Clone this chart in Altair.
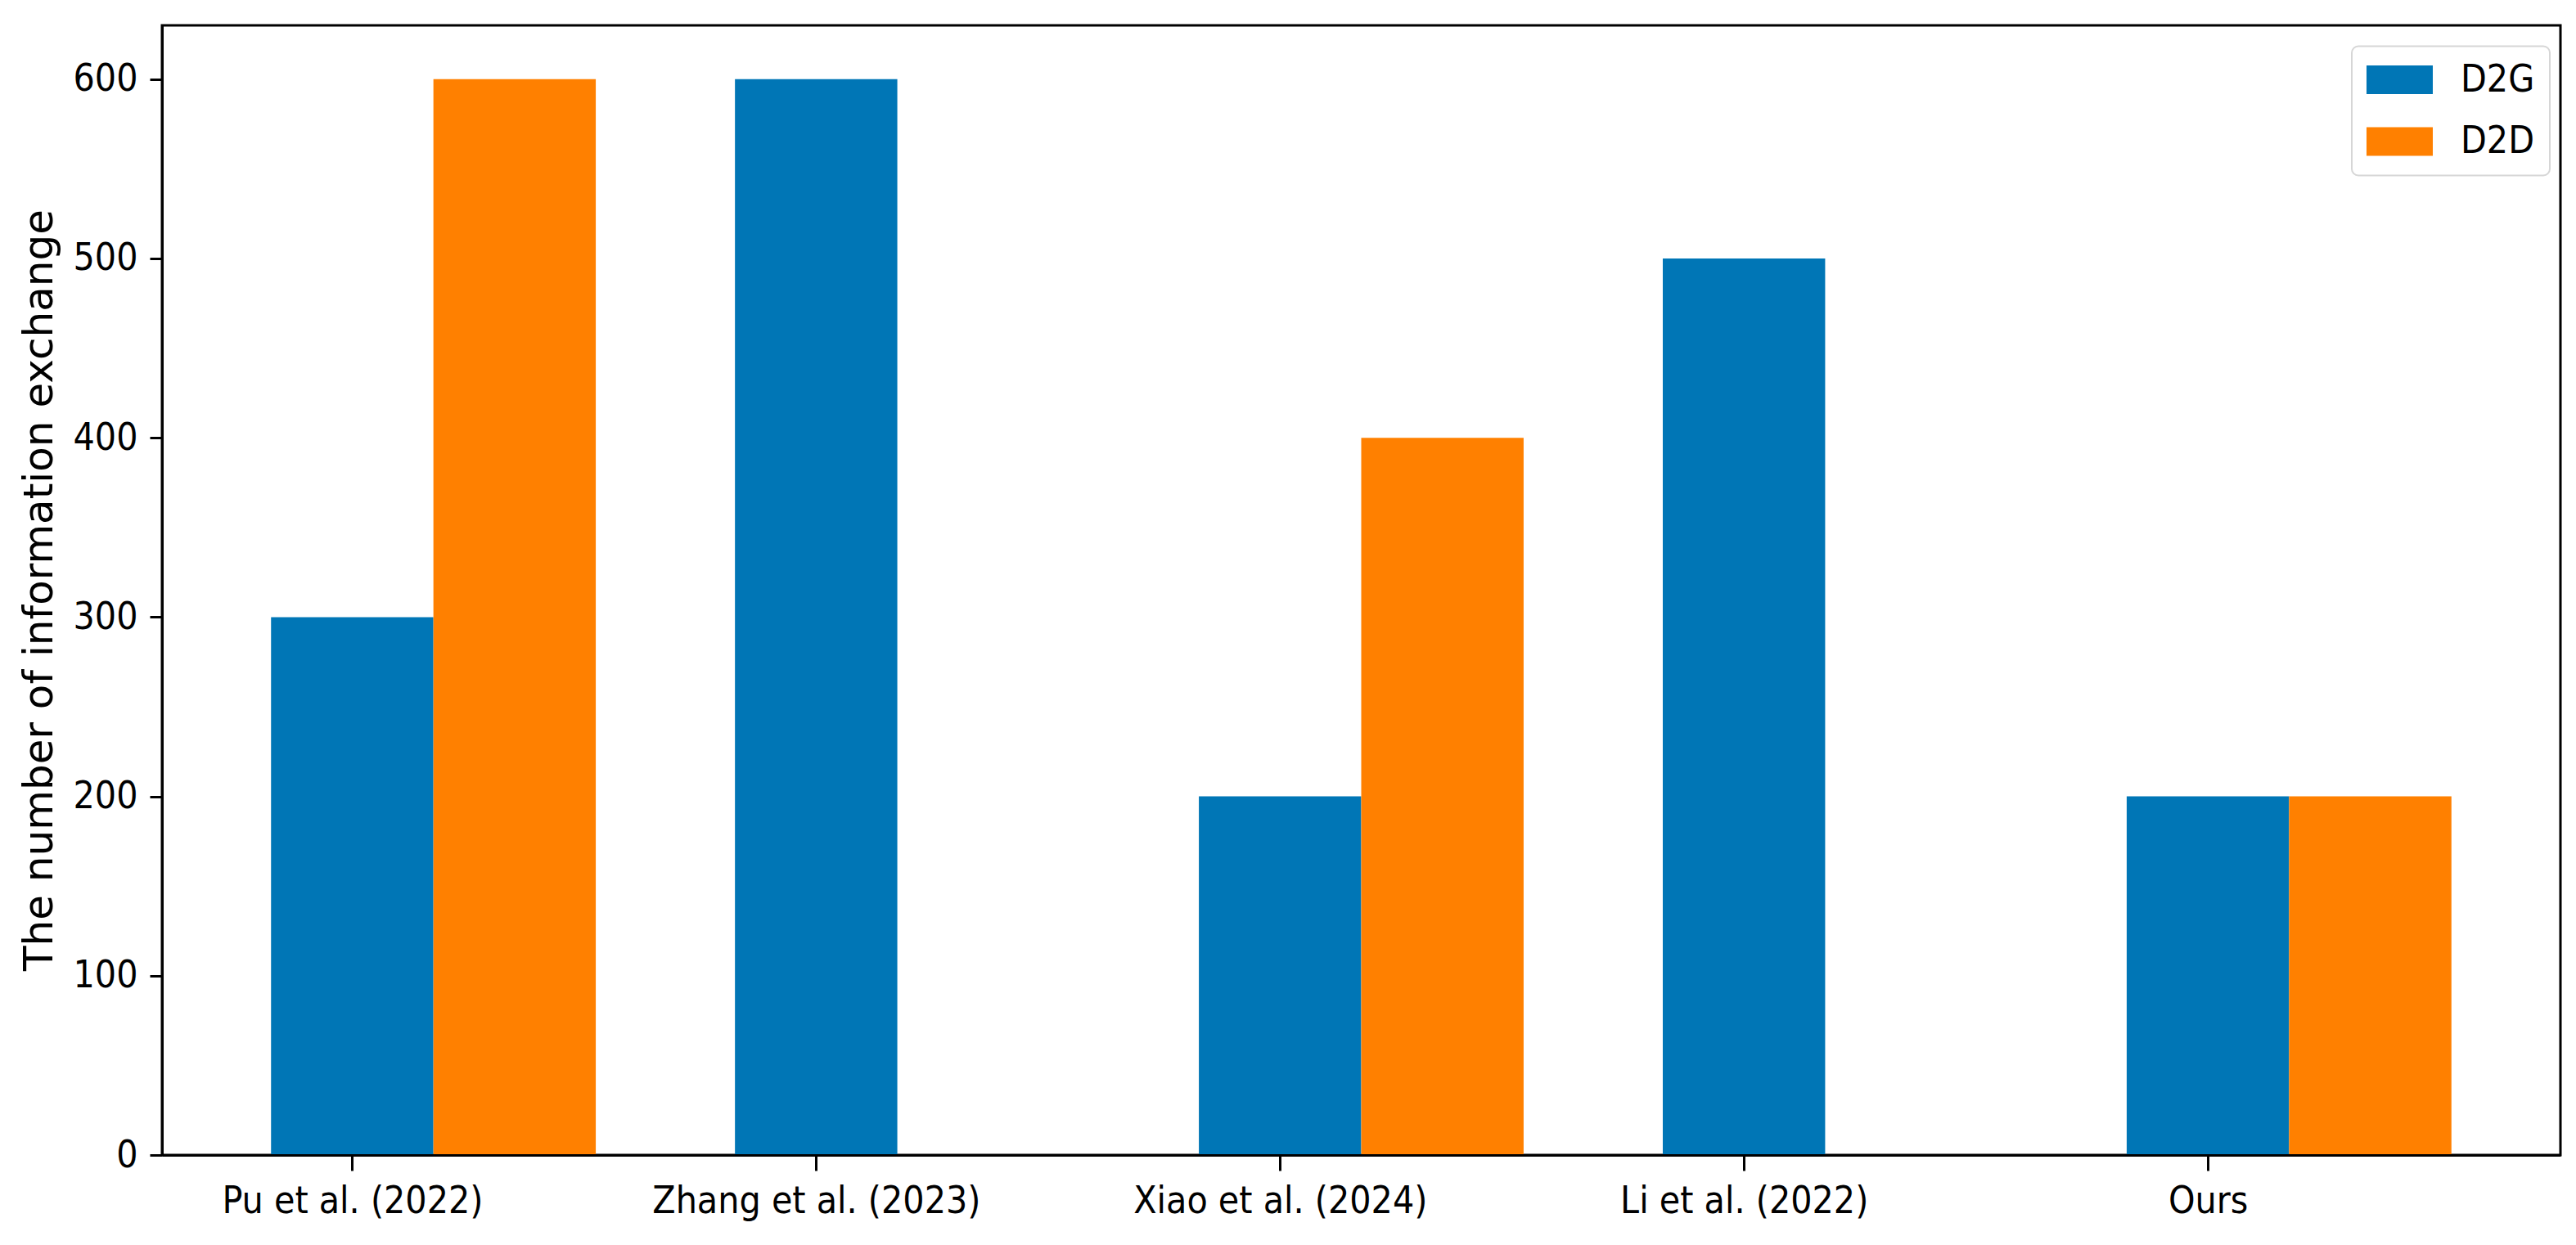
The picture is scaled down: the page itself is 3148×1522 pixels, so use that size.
import json
import altair as alt
import pandas as pd

# ---- data ----
methods = ["Pu et al. (2022)", "Zhang et al. (2023)", "Xiao et al. (2024)", "Li et al. (2022)", "Ours"]
d2g = [300, 600, 200, 500, 200]
d2d = [600, 0, 400, 0, 200]
series = ["D2G", "D2D"]
colors = ["#0076b6", "#ff8000"]
y_ticks = [0, 100, 200, 300, 400, 500, 600]
bar_width = 0.35

rows = []
for i, m in enumerate(methods):
    for k, vals in enumerate((d2g, d2d)):
        left = i + k * bar_width - bar_width / 2
        rows.append({"idx": i, "method": m, "series": series[k], "value": vals[i],
                     "x0": left, "x1": left + bar_width})
df = pd.DataFrame(rows)

label_expr = json.dumps(methods) + "[round(datum.value)]"
cond_font = "DejaVu Sans Condensed"

chart = alt.Chart(df).mark_rect().encode(
    x=alt.X("x0:Q",
            scale=alt.Scale(domain=[-0.41, 4.76], nice=False, zero=False),
            axis=alt.Axis(values=[0, 1, 2, 3, 4], labelExpr=label_expr, title=None, grid=False,
                          tickSize=19, tickWidth=3, tickColor="black",
                          domainColor="black", domainWidth=3,
                          labelFont=cond_font, labelFontSize=46, labelColor="black",
                          labelPadding=15, labelAngle=0, labelLimit=0,
                          labelOverlap=False, labelFlush=False, zindex=1)),
    x2="x1:Q",
    y=alt.Y("value:Q",
            scale=alt.Scale(domain=[0, 630], nice=False),
            axis=alt.Axis(values=y_ticks, grid=False, format="d",
                          title="The number of information exchange",
                          titleFont="DejaVu Sans", titleFontSize=50, titleFontWeight="normal",
                          titleColor="black", titleX=-135, titleY=690, titleAngle=270,
                          titleBaseline="alphabetic", titleAlign="center",
                          tickSize=15, tickWidth=3, tickColor="black",
                          domainColor="black", domainWidth=3,
                          labelFont=cond_font, labelFontSize=46, labelColor="black",
                          labelPadding=15, labelOverlap=False, zindex=1)),
    y2=alt.datum(0),
    color=alt.Color("series:N", scale=alt.Scale(domain=series, range=colors),
                    legend=alt.Legend(orient="none", legendX=2676, legendY=25.5, title=None,
                                      symbolType="M-1,-0.43H1V0.43H-1Z", symbolSize=6561,
                                      symbolStrokeWidth=0, symbolOpacity=1,
                                      clipHeight=46,
                                      labelFont=cond_font, labelFontSize=46, labelColor="black",
                                      labelOffset=34, padding=18, rowPadding=29.5,
                                      fillColor="white", strokeColor="#d6d6d6",
                                      cornerRadius=8)),
).properties(
    width=2931, height=1381,
    autosize=alt.AutoSizeParams(type="none"),
    padding={"left": 190, "top": 23, "right": 10, "bottom": 100},
).configure_view(stroke="black", strokeWidth=3).configure_legend(strokeWidth=2)

chart.save("out.html", embed_options={"renderer": "svg", "actions": False})
